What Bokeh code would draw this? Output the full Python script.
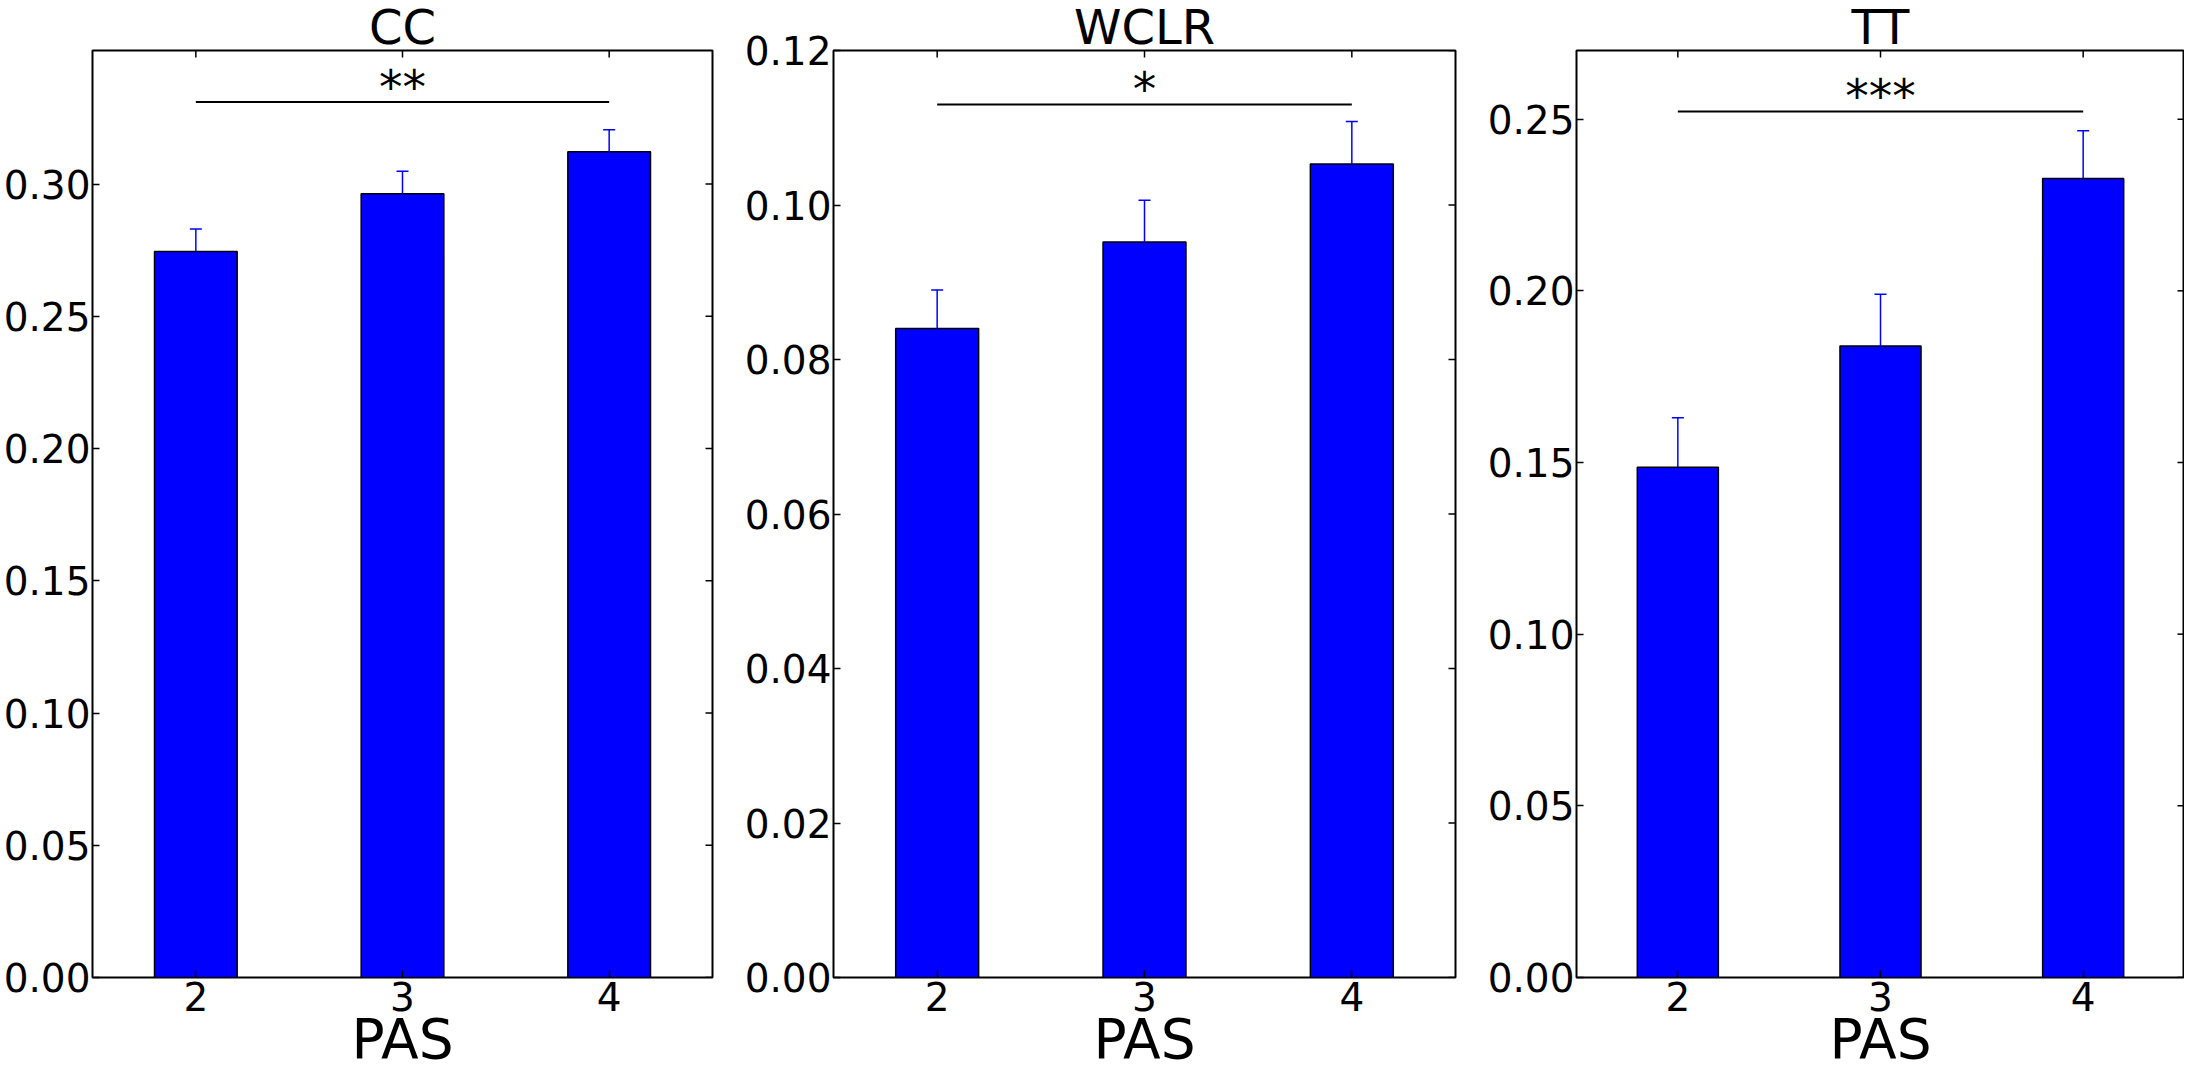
import math
from bokeh.plotting import figure
from bokeh.layouts import row
from bokeh.models import (ColumnDataSource, Whisker, TeeHead, FixedTicker,
                          PrintfTickFormatter, Range1d, Title)
from bokeh.core.properties import value
from bokeh.embed import file_html
from bokeh.resources import INLINE

# ---- data ----
pas = [2, 3, 4]
x_label = "PAS"

titles = ["CC", "WCLR", "TT"]

cc_mean = [0.2745, 0.2963, 0.3122]
cc_err = [0.0085, 0.0085, 0.0083]

wclr_mean = [0.0840, 0.0952, 0.1053]
wclr_err = [0.0050, 0.0054, 0.0055]

tt_mean = [0.1486, 0.1839, 0.2327]
tt_err = [0.0144, 0.0151, 0.0139]

sig_levels = [0.331, 0.113, 0.2522]
sig_marks = ["**", "*", "***"]

x_lo, x_hi = 1.5, 4.5
y_max = [0.3505, 0.12, 0.27]
cc_ticks = [0.00, 0.05, 0.10, 0.15, 0.20, 0.25, 0.30]
wclr_ticks = [0.00, 0.02, 0.04, 0.06, 0.08, 0.10, 0.12]
tt_ticks = [0.00, 0.05, 0.10, 0.15, 0.20, 0.25]

# ---- style ----
FONT = "DejaVu Sans"
BAR = "#0000ff"
TICK_PX = "39px"
TITLE_PX = "48px"
XLAB_PX = "55px"
STAR_PX = "47px"
H = 1073
TICK_LEN = 7


def style_axis(ax):
    ax.axis_line_color = None
    ax.major_tick_in = TICK_LEN
    ax.major_tick_out = 0
    ax.major_tick_line_color = "black"
    ax.major_tick_line_width = 1.5
    ax.minor_tick_line_color = None
    ax.major_label_text_font = FONT
    ax.major_label_text_color = "black"
    ax.major_label_text_font_size = TICK_PX


def panel(title, mean, err, sig, mark, ymax, yticks, width, left, right):
    upper = [m + e for m, e in zip(mean, err)]
    src = ColumnDataSource(dict(x=pas, top=mean, upper=upper))

    p = figure(width=width, height=H, x_range=Range1d(x_lo, x_hi),
               y_range=Range1d(0, ymax), output_backend="svg",
               toolbar_location=None, title=title,
               min_border_left=left, min_border_right=right,
               min_border_top=45, min_border_bottom=96)
    p.background_fill_color = "white"
    p.border_fill_color = "white"
    p.outline_line_color = "black"
    p.outline_line_width = 2
    p.outline_line_alpha = 1
    p.xgrid.visible = False
    p.ygrid.visible = False

    p.title.align = "center"
    p.title.text_font = FONT
    p.title.text_font_size = TITLE_PX
    p.title.text_font_style = "normal"
    p.title.text_color = "black"
    p.title.standoff = -8

    xa = p.xaxis[0]
    xa.ticker = FixedTicker(ticks=pas)
    style_axis(xa)
    xa.major_label_standoff = 4
    # undrawn axis label: only reserves a little room under the tick labels
    xa.axis_label = " "
    xa.axis_label_text_font_size = "20px"
    xa.axis_label_text_color = None
    xa.axis_label_standoff = -7

    ya = p.yaxis[0]
    ya.ticker = FixedTicker(ticks=yticks)
    ya.formatter = PrintfTickFormatter(format="%.2f")
    style_axis(ya)
    ya.major_label_standoff = 2

    # x-axis title under the tick labels
    p.add_layout(Title(text=x_label, align="center", vertical_align="bottom",
                       standoff=-54, text_font=FONT, text_font_size=XLAB_PX,
                       text_font_style="normal", text_color="black"), "below")

    # mirrored inner ticks on the right and top edges of the frame
    p.ray(x=[x_hi] * len(yticks), y=yticks, length=TICK_LEN,
          length_units="screen", angle=math.pi, line_color="black",
          line_width=1.5)
    p.ray(x=pas, y=[ymax] * len(pas), length=TICK_LEN,
          length_units="screen", angle=-math.pi / 2, line_color="black",
          line_width=1.5)

    p.vbar(x="x", top="top", width=0.4, source=src, fill_color=BAR,
           line_color="black", line_width=1.5)

    wh = Whisker(base="x", upper="upper", lower="top", source=src,
                 line_color=BAR, line_width=1.5,
                 upper_head=TeeHead(size=12, line_color=BAR, line_width=1.5),
                 lower_head=None, level="overlay")
    p.add_layout(wh)

    p.segment(x0=[pas[0]], x1=[pas[-1]], y0=[sig], y1=[sig],
              line_color="black", line_width=2)
    p.text(x=[(pas[0] + pas[-1]) / 2], y=[sig], text=[mark],
           text_align="center", text_baseline="alphabetic",
           text_font=value(FONT), text_font_size=STAR_PX,
           text_color="black", y_offset=-16)
    return p


p1 = panel(titles[0], cc_mean, cc_err, sig_levels[0], sig_marks[0],
           y_max[0], cc_ticks, 741, 89, 29)
p2 = panel(titles[1], wclr_mean, wclr_err, sig_levels[1], sig_marks[1],
           y_max[1], wclr_ticks, 743, 89, 29)
p3 = panel(titles[2], tt_mean, tt_err, sig_levels[2], sig_marks[2],
           y_max[2], tt_ticks, 700, 89, 0)

layout = row(p1, p2, p3)
open("out.html", "w").write(file_html(layout, INLINE, title="PAS bars"))
